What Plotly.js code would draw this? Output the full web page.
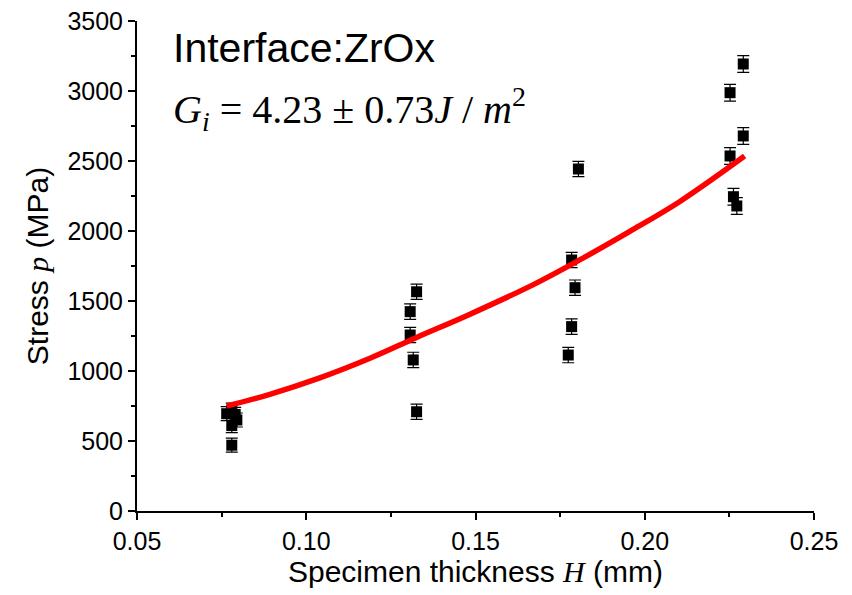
<!DOCTYPE html>
<html>
<head>
<meta charset="utf-8">
<script src="https://cdn.plot.ly/plotly-3.0.1.min.js"></script>
<style>html,body{margin:0;padding:0;background:#fff;}#chart{width:852px;height:595px;}</style>
</head>
<body>
<div id="chart"></div>
<script>
// Measured data: specimen thickness H (mm) vs stress p (MPa)
const thickness = [0.0765, 0.0780, 0.0790, 0.0795, 0.0780, 0.0780,
                   0.1326, 0.1307, 0.1307, 0.1316, 0.1326,
                   0.1804, 0.1784, 0.1794, 0.1784, 0.1774,
                   0.2291, 0.2252, 0.2291, 0.2252, 0.2262, 0.2272];
const stress = [695, 720, 690, 650, 610, 470,
                1566, 1424, 1257, 1079, 709,
                2443, 1793, 1595, 1317, 1114,
                3193, 2988, 2679, 2536, 2245, 2179];
const stressErr = [50, 50, 50, 50, 50, 50,
                   55, 55, 55, 55, 55,
                   55, 55, 55, 55, 55,
                   60, 60, 60, 60, 60, 60];
// Fitted curve
const fitH = [0.0765, 0.0890, 0.1040, 0.1190, 0.1326, 0.1474, 0.1671, 0.1809, 0.1956, 0.2104, 0.2295];
const fitP = [750, 832, 951, 1093, 1240, 1395, 1617, 1795, 1997, 2211, 2535];
const xTicks = [0.05, 0.10, 0.15, 0.20, 0.25];
const xTickText = ['0.05', '0.10', '0.15', '0.20', '0.25'];
const yTicks = [0, 500, 1000, 1500, 2000, 2500, 3000, 3500];

const traces = [
  {
    x: thickness, y: stress, type: 'scatter', mode: 'markers',
    marker: {symbol: 'square', size: 11, color: '#000'},
    error_y: {type: 'data', array: stressErr, visible: true, color: '#000', thickness: 1.2, width: 6},
    showlegend: false, hoverinfo: 'x+y'
  },
  {
    x: fitH, y: fitP, type: 'scatter', mode: 'lines',
    line: {color: '#ff0000', width: 5.5, shape: 'spline'},
    showlegend: false
  }
];

const fontFam = 'Liberation Sans, Arial, sans-serif';
const serif = 'Liberation Serif, Times New Roman, serif';
const layout = {
  width: 852, height: 595,
  margin: {l: 137, r: 38, t: 21, b: 83.5, pad: 0},
  paper_bgcolor: '#fff', plot_bgcolor: '#fff',
  font: {family: fontFam, color: '#000', size: 25},
  xaxis: {
    range: [0.05, 0.25], tickvals: xTicks, ticktext: xTickText,
    showgrid: false, zeroline: false, showline: true, linecolor: '#000', linewidth: 2,
    ticks: 'outside', ticklen: 7, tickwidth: 2, tickcolor: '#000',
    minor: {dtick: 0.025, tick0: 0.05, ticks: 'outside', ticklen: 4, tickwidth: 2, tickcolor: '#000', showgrid: false},
    tickfont: {size: 25, family: fontFam},
    title: {text: 'Specimen thickness <i><span style="font-family:' + serif + '">H</span></i> (mm)', font: {size: 30, family: fontFam}, standoff: 6}
  },
  yaxis: {
    range: [0, 3500], tickvals: yTicks,
    showgrid: false, zeroline: false, showline: true, linecolor: '#000', linewidth: 2,
    ticks: 'outside', ticklen: 7, tickwidth: 2, tickcolor: '#000',
    minor: {dtick: 250, tick0: 0, ticks: 'outside', ticklen: 4, tickwidth: 2, tickcolor: '#000', showgrid: false},
    tickfont: {size: 25, family: fontFam},
    title: {text: 'Stress <i><span style="font-family:' + serif + '">p</span></i> (MPa)', font: {size: 30, family: fontFam}, standoff: 10}
  },
  annotations: [
    {
      xref: 'paper', yref: 'paper', x: 0.05, y: 0.945, xanchor: 'left', yanchor: 'middle',
      text: 'Interface:ZrOx', showarrow: false,
      font: {size: 41, family: fontFam, color: '#000'}
    },
    {
      xref: 'paper', yref: 'paper', x: 0.05, y: 0.82, xanchor: 'left', yanchor: 'middle',
      text: '<i>G</i><sub><i>i</i></sub> = 4.23 ± 0.73<i>J</i> / <i>m</i><sup>2</sup>', showarrow: false,
      font: {size: 40, family: serif, color: '#000'}
    }
  ]
};

Plotly.newPlot('chart', traces, layout, {displayModeBar: false, staticPlot: true});
</script>
</body>
</html>
